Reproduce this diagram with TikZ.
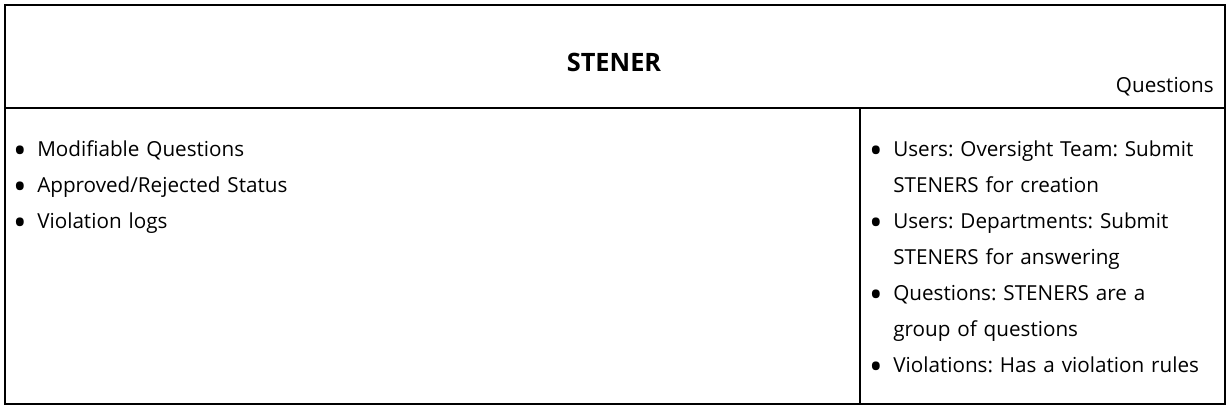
\documentclass[tikz,border=0pt]{standalone}
\usepackage{fontspec}
\setmainfont{Open Sans}
\usepackage{enumitem}
\usetikzlibrary{positioning}
\tikzset{
  every node/.style={font=\fontsize{15.5}{27}\selectfont\frenchspacing,text=black,inner sep=0pt},
  cell/.style={draw=black,line width=1.5pt},
  classname/.style={font=\fontsize{19}{22}\selectfont\bfseries},
  rolelist/.style={anchor=base west,align=left,text width=#1}
}
\newcommand{\dotmark}{\raisebox{-5.8pt}{\scalebox{1.75}{\textbullet}}}
\newcommand{\cardlist}[1]{%
  \begin{itemize}[label=\dotmark,leftmargin=16.5pt,labelsep=8pt,itemsep=0pt,topsep=0pt,parsep=0pt,partopsep=0pt]#1\end{itemize}}

\begin{document}
\begin{tikzpicture}[x=0.75pt,y=-0.75pt]
  \useasboundingbox (0,0) rectangle (1231,407);
  % card frame
  \draw[cell] (4.5,4.5) rectangle (1225,107.5);
  \draw[cell] (4.5,107.5) rectangle (860,403.5);
  \draw[cell] (860,107.5) rectangle (1225,403.5);

  \node[classname,anchor=base] (title) at (614,71) {STENER};
  \node[anchor=base east] (collab) at (1214,92) {Questions};

  \node[rolelist=600pt] (resp) at (15,120) {\cardlist{%
    \item Modifiable Questions
    \item Approved/Rejected Status
    \item Violation logs}};
  \node[rolelist=260pt] (links) at (871,120) {\cardlist{%
    \item Users: Oversight Team: Submit\\STENERS for creation
    \item Users: Departments: Submit\\STENERS for answering
    \item Questions: STENERS are a\\group of questions
    \item Violations: Has a violation rules}};
\end{tikzpicture}
\end{document}
